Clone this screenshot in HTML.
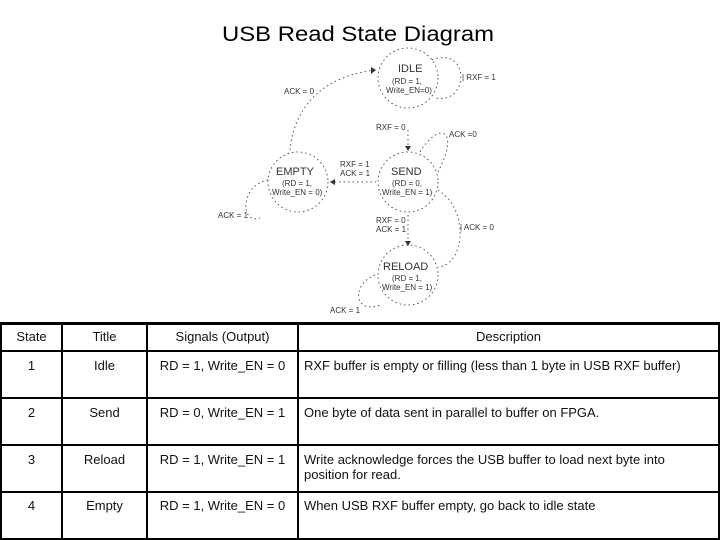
<!DOCTYPE html>
<html><head><style>
body{margin:0;background:#fff;width:720px;height:540px;overflow:hidden;position:relative;font-family:"Liberation Sans",sans-serif}
svg{position:absolute;left:0;top:0}
.c{position:absolute;font-size:13px;color:#111;text-align:center;line-height:15px}
.l{position:absolute;background:#000}
</style></head><body>
<svg width="720" height="320" font-family="Liberation Sans, sans-serif">
<text x="222" y="41" font-size="21" textLength="272" lengthAdjust="spacingAndGlyphs" fill="#000">USB Read State Diagram</text>
<g fill="none" stroke="#555" stroke-width="1" stroke-dasharray="1.5,3">
<circle cx="408" cy="78" r="30"/>
<circle cx="298" cy="182" r="30"/>
<circle cx="408" cy="182" r="30"/>
<circle cx="408" cy="275" r="30"/>
<path d="M290 150 C295 100 330 75 376 70"/>
<path d="M432 60 C470 45 470 105 435 98"/>
<path d="M408 130 L408 150"/>
<path d="M420 152 C440 120 460 130 438 172"/>
<path d="M330 182 L376 182"/>
<path d="M408 215 L408 245"/>
<path d="M438 190 C470 210 465 265 438 267"/>
<path d="M268 180 C240 185 240 225 260 218"/>
<path d="M375 275 C350 285 355 315 380 305"/>
</g>
<g fill="#333" font-size="8">
<text x="398" y="72" font-size="11">IDLE</text>
<text x="392" y="84">(RD = 1,</text><text x="386" y="93">Write_EN=0)</text>
<text x="462" y="80">| RXF = 1</text>
<text x="284" y="94">ACK = 0</text>
<text x="376" y="130">RXF = 0</text>
<text x="449" y="137">ACK =0</text>
<text x="276" y="175" font-size="11">EMPTY</text>
<text x="282" y="186">(RD = 1,</text><text x="272" y="195">Write_EN = 0)</text>
<text x="340" y="167">RXF = 1</text><text x="340" y="176">ACK = 1</text>
<text x="391" y="175" font-size="11">SEND</text>
<text x="392" y="186">(RD = 0,</text><text x="382" y="195">Write_EN = 1)</text>
<text x="218" y="218">ACK = 1</text>
<text x="376" y="223">RXF = 0</text><text x="376" y="232">ACK = 1</text>
<text x="460" y="230">| ACK = 0</text>
<text x="383" y="270" font-size="11">RELOAD</text>
<text x="392" y="281">(RD = 1,</text><text x="382" y="290">Write_EN = 1)</text>
<text x="330" y="313">ACK = 1</text>
<polygon points="376,70 371,67 371,74"/>
<polygon points="408,151 405,146 411,146"/>
<polygon points="408,246 405,241 411,241"/>
<polygon points="330,182 335,179 335,185"/>
</g>
</svg>
<div class="l" style="left:0;top:322px;width:720px;height:3px"></div>
<div class="l" style="left:0;top:350px;width:720px;height:2px"></div>
<div class="l" style="left:0;top:397px;width:720px;height:2px"></div>
<div class="l" style="left:0;top:444px;width:720px;height:2px"></div>
<div class="l" style="left:0;top:491px;width:720px;height:2px"></div>
<div class="l" style="left:0;top:538px;width:720px;height:2px"></div>
<div class="l" style="left:0;top:322px;width:2px;height:218px"></div>
<div class="l" style="left:61px;top:322px;width:2px;height:218px"></div>
<div class="l" style="left:146px;top:322px;width:2px;height:218px"></div>
<div class="l" style="left:297px;top:322px;width:2px;height:218px"></div>
<div class="l" style="left:718px;top:322px;width:2px;height:218px"></div>
<div class="c" style="left:2px;top:329px;width:59px">State</div>
<div class="c" style="left:63px;top:329px;width:83px">Title</div>
<div class="c" style="left:148px;top:329px;width:149px">Signals (Output)</div>
<div class="c" style="left:299px;top:329px;width:419px">Description</div>
<div class="c" style="left:2px;top:358px;width:59px">1</div>
<div class="c" style="left:63px;top:358px;width:83px">Idle</div>
<div class="c" style="left:148px;top:358px;width:149px">RD = 1, Write_EN = 0</div>
<div class="c" style="left:304px;top:358px;width:414px;text-align:left">RXF buffer is empty or filling (less than 1 byte in USB RXF buffer)</div>
<div class="c" style="left:2px;top:405px;width:59px">2</div>
<div class="c" style="left:63px;top:405px;width:83px">Send</div>
<div class="c" style="left:148px;top:405px;width:149px">RD = 0, Write_EN = 1</div>
<div class="c" style="left:304px;top:405px;width:414px;text-align:left">One byte of data sent in parallel to buffer on FPGA.</div>
<div class="c" style="left:2px;top:452px;width:59px">3</div>
<div class="c" style="left:63px;top:452px;width:83px">Reload</div>
<div class="c" style="left:148px;top:452px;width:149px">RD = 1, Write_EN = 1</div>
<div class="c" style="left:304px;top:452px;width:405px;text-align:left">Write acknowledge forces the USB buffer to load next byte into position for read.</div>
<div class="c" style="left:2px;top:498px;width:59px">4</div>
<div class="c" style="left:63px;top:498px;width:83px">Empty</div>
<div class="c" style="left:148px;top:498px;width:149px">RD = 1, Write_EN = 0</div>
<div class="c" style="left:304px;top:498px;width:414px;text-align:left">When USB RXF buffer empty, go back to idle state</div>
</body></html>
